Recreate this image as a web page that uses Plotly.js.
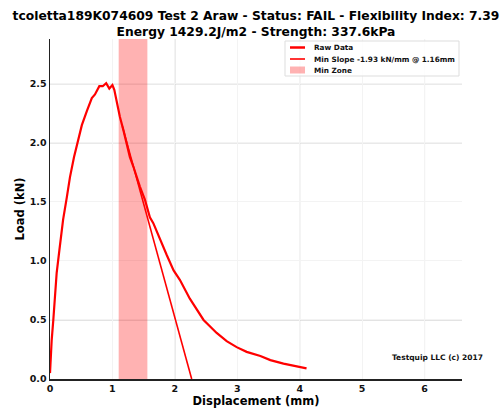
<!DOCTYPE html>
<html>
<head>
<meta charset="utf-8">
<script src="https://cdn.plot.ly/plotly-3.0.1.min.js"></script>
<style>html,body{margin:0;padding:0;background:#fff}#chart{width:500px;height:410px}</style>
</head>
<body>
<div id="chart"></div>
<script>
// ---- data ----
const rawX = [0, 0.01, 0.027, 0.053, 0.08, 0.107, 0.15, 0.21, 0.27, 0.32, 0.385, 0.45, 0.51, 0.59, 0.67, 0.72, 0.79, 0.845, 0.90, 0.95, 1.0, 1.03, 1.07, 1.12, 1.175, 1.23, 1.28, 1.335, 1.39, 1.44, 1.52, 1.575, 1.60, 1.655, 1.76, 1.87, 1.98, 2.08, 2.24, 2.46, 2.67, 2.83, 2.99, 3.15, 3.37, 3.53, 3.74, 3.95, 4.11];
const rawY = [0.05, 0.2, 0.33, 0.50, 0.72, 0.90, 1.09, 1.35, 1.54, 1.71, 1.88, 2.03, 2.15, 2.27, 2.38, 2.41, 2.48, 2.48, 2.505, 2.46, 2.49, 2.45, 2.34, 2.22, 2.11, 2.0, 1.88, 1.80, 1.71, 1.63, 1.52, 1.42, 1.37, 1.32, 1.18, 1.05, 0.92, 0.84, 0.68, 0.50, 0.39, 0.32, 0.27, 0.23, 0.195, 0.16, 0.13, 0.105, 0.09];
const slopeX = [1.16, 2.27];
const slopeY = [2.14, 0];
const zoneX = [1.10, 1.56];
const yMax = 2.88;
const xMax = 6.6;
const xTicks = [0, 1, 2, 3, 4, 5, 6];
const yTicks = [0, 0.5, 1.0, 1.5, 2.0, 2.5];
const names = ["Raw Data", "Min Slope -1.93 kN/mm @ 1.16mm", "Min Zone"];
const titleLines = ["tcoletta189K074609 Test 2 Araw - Status: FAIL - Flexibility Index: 7.39", "Energy 1429.2J/m2 - Strength: 337.6kPa"];
const credit = "Testquip LLC (c) 2017";

// ---- layout geometry ----
const W = 500, H = 410, ML = 50, MR = 38, MT = 39, MB = 31;
const PW = W - ML - MR, PH = H - MT - MB;
const px = v => (v - ML) / PW;          // pixel x -> paper
const py = v => (H - MB - v) / PH;      // pixel y -> paper

const RED = '#ff0000';
const bold = {family: 'DejaVu Sans', weight: 'bold', color: '#111'};

const traces = [
  {x: [zoneX[0], zoneX[1], zoneX[1], zoneX[0]], y: [0, 0, yMax, yMax], fill: 'toself', fillcolor: 'rgba(255,0,0,0.3)', line: {width: 0}, mode: 'lines', hoverinfo: 'skip', showlegend: false, name: names[2]},
  {x: rawX, y: rawY, mode: 'lines', line: {color: RED, width: 2.2}, showlegend: false, name: names[0]},
  {x: slopeX, y: slopeY, mode: 'lines', line: {color: RED, width: 1.6}, showlegend: false, name: names[1]}
];

const shapes = [];
const darkX = [2, 4, 6], darkY = [0.5, 2.0, 2.5];
darkX.forEach(v => shapes.push({type: 'line', xref: 'x', yref: 'paper', x0: v, x1: v, y0: 0, y1: 1, line: {color: '#c4c4c4', width: 1}, layer: 'below'}));
darkY.forEach(v => shapes.push({type: 'line', xref: 'paper', yref: 'y', x0: 0, x1: 1, y0: v, y1: v, line: {color: '#c4c4c4', width: 1}, layer: 'below'}));

// manual legend
shapes.push({type: 'rect', xref: 'paper', yref: 'paper', x0: px(285), x1: px(459), y0: py(41), y1: py(76), fillcolor: 'rgba(255,255,255,0.8)', line: {color: '#dddddd', width: 1}});
const legY = [47.5, 59, 70];
shapes.push({type: 'line', xref: 'paper', yref: 'paper', x0: px(290), x1: px(305), y0: py(legY[0]), y1: py(legY[0]), line: {color: RED, width: 2.5}});
shapes.push({type: 'line', xref: 'paper', yref: 'paper', x0: px(290), x1: px(305), y0: py(legY[1]), y1: py(legY[1]), line: {color: RED, width: 1.6}});
shapes.push({type: 'rect', xref: 'paper', yref: 'paper', x0: px(290), x1: px(305), y0: py(legY[2] - 3.5), y1: py(legY[2] + 3.5), fillcolor: 'rgba(255,0,0,0.3)', line: {width: 0}});

const annotations = names.map((n, i) => ({xref: 'paper', yref: 'paper', x: px(312), y: py(legY[i]), text: n, showarrow: false, xanchor: 'left', yanchor: 'middle', font: Object.assign({}, bold, {size: 7.3})}));
annotations.push({xref: 'paper', yref: 'paper', x: px(437), y: py(357), text: credit, showarrow: false, xanchor: 'center', yanchor: 'middle', font: Object.assign({}, bold, {size: 7.5})});

const layout = {
  width: W, height: H,
  margin: {l: ML, r: MR, t: MT, b: MB, pad: 0},
  paper_bgcolor: '#fff', plot_bgcolor: '#fff',
  showlegend: false,
  title: {text: titleLines.join('<br>'), x: px(256), xref: 'paper', xanchor: 'center', y: 1 - 20 / H, yref: 'container', yanchor: 'top', font: Object.assign({}, bold, {size: 12.3, color: '#000'})},
  xaxis: {range: [0, xMax], tickvals: xTicks, ticktext: xTicks.map(String), showgrid: true, gridcolor: '#f3f3f3', zeroline: false, showline: true, linecolor: '#222', linewidth: 1.5, ticks: '', ticklen: 0, tickfont: Object.assign({}, bold, {size: 9.5}), title: {text: 'Displacement (mm)', font: Object.assign({}, bold, {size: 11.5, color: '#000'}), standoff: 4}},
  yaxis: {range: [0, yMax], tickvals: yTicks, ticktext: yTicks.map(v => v.toFixed(1)), showgrid: true, gridcolor: '#f3f3f3', zeroline: false, showline: true, linecolor: '#222', linewidth: 1.5, ticks: '', ticklen: 0, tickfont: Object.assign({}, bold, {size: 9.5}), title: {text: 'Load (kN)', font: Object.assign({}, bold, {size: 11.5, color: '#000'}), standoff: 2}},
  shapes: shapes,
  annotations: annotations
};

Plotly.newPlot('chart', traces, layout, {staticPlot: true, displayModeBar: false});
</script>
</body>
</html>
